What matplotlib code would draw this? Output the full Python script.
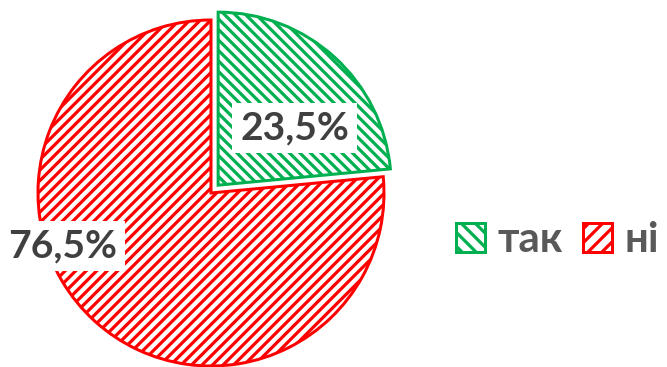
import matplotlib
matplotlib.use('Agg')
import matplotlib.pyplot as plt
from matplotlib.patches import Patch

categories = ['так', 'ні']
values = [23.5, 76.5]
value_labels = ['23,5%', '76,5%']

DPI = 126
W, H = 667, 367


def pt(px):
    return px * 72 / DPI


plt.rcParams['font.family'] = ['Lato', 'DejaVu Sans']
plt.rcParams['hatch.linewidth'] = pt(3.2)

green = '#00B050'
red = '#FF0000'
txt = '#404040'
legtxt = '#595959'
colors = [green, red]
hatches = ['\\\\\\\\', '////']
legend_hatches = ['\\\\\\', '///']

fig = plt.figure(figsize=(W / DPI, H / DPI), dpi=DPI)
ax = fig.add_axes([0, 0, 1, 1])

cx, cy, R = 211, H - 193, 173
wedges, _ = ax.pie(values, explode=[10.6, 0], startangle=90, counterclock=False,
                   radius=R, center=(cx, cy), colors=['white', 'white'],
                   wedgeprops=dict(linewidth=pt(3), joinstyle='miter'))
for w, c, h in zip(wedges, colors, hatches):
    w.set_edgecolor(c)
    w.set_hatch(h)

ax.set_xlim(0, W)
ax.set_ylim(0, H)
ax.set_aspect('equal')
ax.axis('off')

label_pos = [(294.5, H - 128), (63, H - 246)]
for (x, y), s in zip(label_pos, value_labels):
    ax.text(x, y, s, ha='center', va='center', fontsize=pt(39), fontweight='bold',
            color=txt, bbox=dict(boxstyle='square,pad=0.2', fc='white', ec='none'))

fs = 42
handles = [Patch(facecolor='white', edgecolor=c, hatch=h, linewidth=pt(3))
           for c, h in zip(colors, legend_hatches)]
fig.legend(handles, categories, loc='center left', bbox_to_anchor=(456 / W, 1 - 240 / H),
           ncol=2, frameon=False, borderpad=0, borderaxespad=0,
           handlelength=29 / fs, handleheight=29 / fs, handletextpad=12 / fs,
           columnspacing=21 / fs, prop={'weight': 'bold', 'size': pt(fs)},
           labelcolor=legtxt)

fig.savefig('out.png', dpi=DPI)
